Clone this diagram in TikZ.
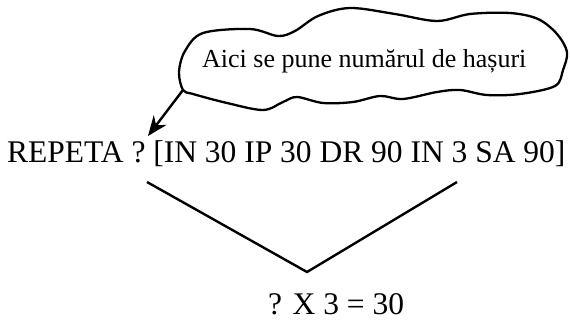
\documentclass[tikz,border=0pt]{standalone}
\usepackage{fontspec}
\setmainfont{Liberation Serif}
\usetikzlibrary{arrows.meta}
\begin{document}
\begin{tikzpicture}[x=1pt,y=-1pt,
  big/.style={inner sep=0pt,anchor=base west,font=\fontsize{31.5}{36}\selectfont},
  small/.style={inner sep=0pt,anchor=base west,font=\fontsize{26}{30}\selectfont},
  cloudline/.style={line width=2.3pt,line join=round},
  vline/.style={line width=2.4pt},
  pointer/.style={line width=2.4pt,-{Stealth[length=20pt,width=16pt]}}]
\useasboundingbox (0,0) rectangle (570,320);
% cloud outline
\draw[cloudline] plot[smooth cycle,tension=0.55] coordinates {
 (183,90) (179,72) (185,51) (203,33) (250,29) (278,36) (295,31) (318,16)
 (350,8) (395,14) (437,21) (470,14) (510,13) (538,19) (557,34) (567,52)
 (563,70) (555,86) (520,94) (487,95) (460,90) (437,92) (403,99) (380,96)
 (353,102) (323,103) (297,97) (283,102) (263,110) (227,103) (193,94)};
\node[small] (note) at (202,68) {Aici se pune numărul de hașuri};
\node[big] (cmd) at (7,163) {REPETA ? [IN 30 IP 30 DR 90 IN 3 SA 90]};
\node[big] (eq) at (268,314) {? X 3 = 30};
\coordinate (cl) at (183,90);
\coordinate (tip) at (148,136);
\draw[pointer] (cl) -- (tip);
\coordinate (vl) at (147,182);
\coordinate (vb) at (307,272);
\coordinate (vr) at (457,182);
\draw[vline] (vl) -- (vb) -- (vr);
\end{tikzpicture}
\end{document}
